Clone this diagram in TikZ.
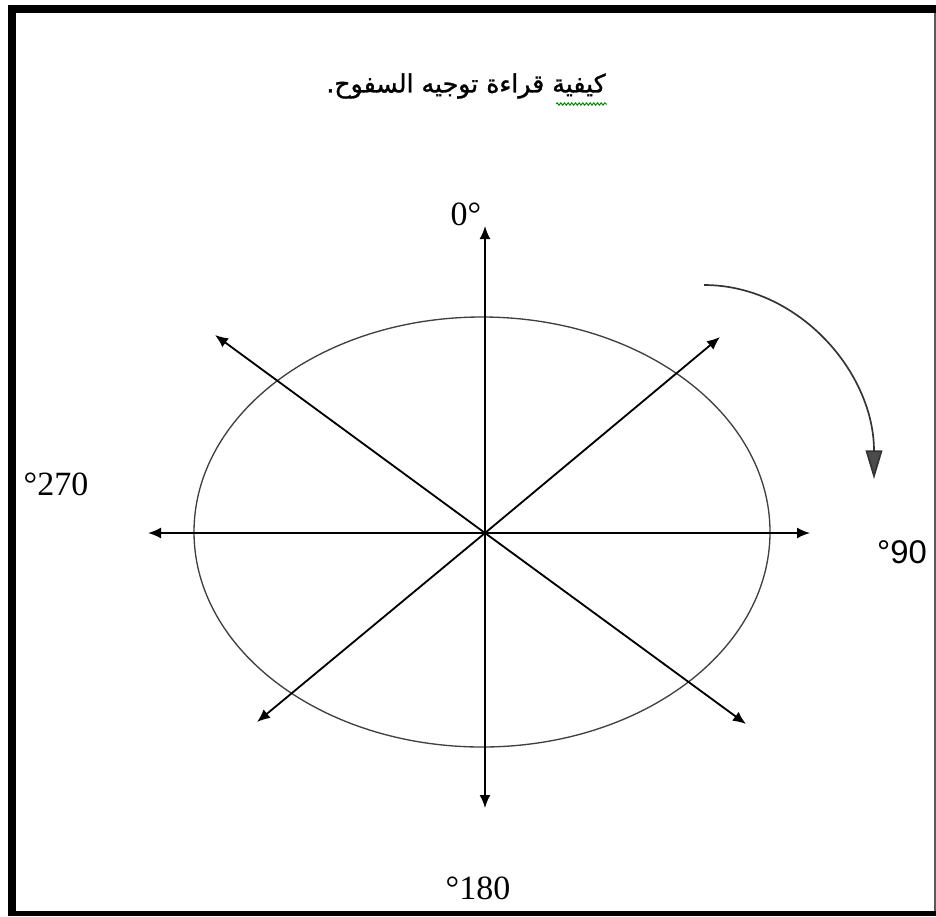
\documentclass[tikz,border=0pt]{standalone}
\usepackage{fontspec}
\setmainfont{Liberation Serif}
\newfontfamily\arabicfont[Script=Arabic, FakeBold=1.2]{DejaVu Sans}
\newfontfamily\labelsans{Liberation Sans}
\TeXXeTstate=1
\usetikzlibrary{arrows.meta,decorations.pathmorphing}

\begin{document}
\begin{tikzpicture}[
  x=0.03cm, y=-0.03cm,
  axis/.style={-{Latex[length=3.9mm, width=3.3mm]}, line width=0.55mm},
  deg/.style={inner sep=0pt, font=\fontsize{29}{34}\selectfont},
  turn/.style={-{Triangle[length=8.6mm, width=5mm, fill=black!70]}, draw=black!80, line width=0.5mm}
]
  \useasboundingbox (0,0) rectangle (936,916);
  \fill[white] (0,0) rectangle (936,916);
  % frame
  \fill[black] (8,5) rectangle (16,916);
  \fill[black] (8,5) rectangle (936,13);
  \fill[black] (8,911) rectangle (936,916);
  \fill[black!65] (934,13) rectangle (935.5,911);

  % title
  \node[inner sep=0pt] (title) at (466,86) {\arabicfont\fontsize{21.5}{25}\selectfont\beginR كيفية قراءة توجيه السفوح.\endR};
  \draw[green!55!black, line width=0.3mm, decorate, decoration={snake, amplitude=0.35mm, segment length=1.1mm}] (556,104) -- (607,104);

  \coordinate (o) at (485,533);
  \draw[black!75, line width=0.4mm] (482,532) ellipse [x radius=288, y radius=215];

  \coordinate (n) at (485,226);
  \coordinate (s) at (485,808);
  \coordinate (e) at (810,533);
  \coordinate (w) at (148,533);
  \coordinate (ne) at (720,337);
  \coordinate (nw) at (215,335);
  \coordinate (se) at (746,724);
  \coordinate (sw) at (257,722);
  \foreach \t in {n,s,e,w,ne,nw,se,sw}
    \draw[axis] (o) -- (\t);

  % sense of rotation
  \coordinate (t1) at (704,285);
  \coordinate (t2) at (874,479);
  \draw[turn] (t1) .. controls +(94,0) and +(0,-107) .. (t2);

  % degrees
  \node[deg] (d0) at (466,214) {0°};
  \node[deg] (d270) at (56,484) {°270};
  \node[deg, font=\labelsans\fontsize{28}{34}\selectfont] (d90) at (902,552) {°90};
  \node[deg] (d180) at (478,888) {°180};
\end{tikzpicture}
\end{document}
